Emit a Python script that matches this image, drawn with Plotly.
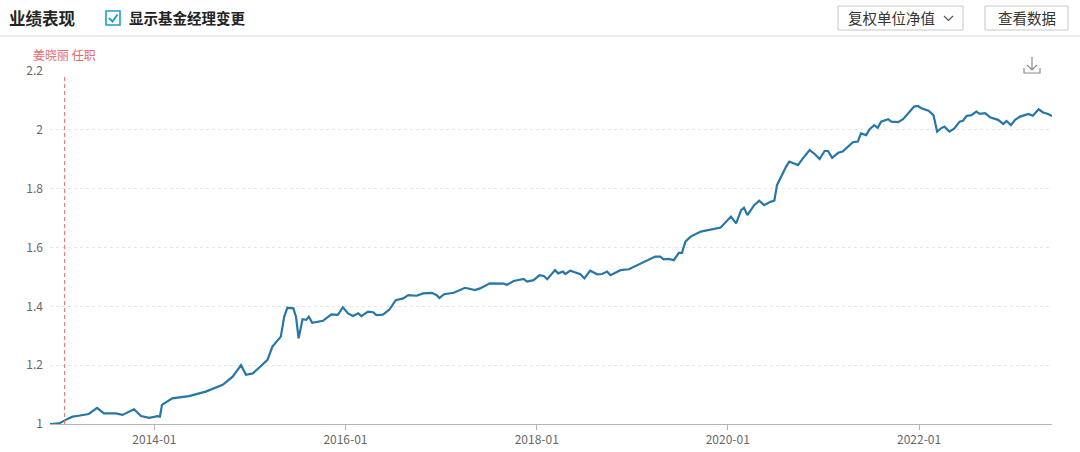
import plotly.graph_objects as go

# 复权单位净值
dates = [
    "2012-11-28", "2013-01-02", "2013-01-27", "2013-02-22", "2013-03-17", "2013-04-25",
    "2013-05-27", "2013-06-22", "2013-08-06", "2013-09-01", "2013-10-15", "2013-11-11",
    "2013-12-12", "2014-01-13", "2014-01-22", "2014-01-30", "2014-03-10", "2014-05-13",
    "2014-07-16", "2014-09-19", "2014-10-27", "2014-11-28", "2014-12-17", "2015-01-12",
    "2015-02-07", "2015-03-09", "2015-03-28", "2015-04-17", "2015-04-29", "2015-05-12",
    "2015-05-24", "2015-06-16", "2015-06-26", "2015-07-06", "2015-07-21", "2015-08-04",
    "2015-08-14", "2015-08-27", "2015-10-07", "2015-11-08", "2015-12-03", "2015-12-22",
    "2016-01-11", "2016-01-30", "2016-02-19", "2016-03-02", "2016-03-27", "2016-04-16",
    "2016-04-28", "2016-05-23", "2016-06-18", "2016-07-11", "2016-08-09", "2016-08-28",
    "2016-09-29", "2016-10-24", "2016-11-26", "2016-12-15", "2016-12-25", "2017-01-12",
    "2017-02-18", "2017-04-02", "2017-05-10", "2017-05-29", "2017-07-06", "2017-08-27",
    "2017-09-09", "2017-10-05", "2017-11-12", "2017-11-25", "2017-12-20", "2018-01-12",
    "2018-01-28", "2018-02-10", "2018-02-23", "2018-03-12", "2018-03-24", "2018-04-11",
    "2018-04-20", "2018-05-09", "2018-06-17", "2018-07-02", "2018-07-24", "2018-08-20",
    "2018-09-08", "2018-09-27", "2018-10-10", "2018-11-17", "2018-12-19", "2019-01-14",
    "2019-02-28", "2019-03-30", "2019-04-18", "2019-05-01", "2019-05-20", "2019-06-09",
    "2019-06-28", "2019-07-10", "2019-07-23", "2019-08-12", "2019-09-20", "2019-10-15",
    "2019-11-10", "2019-12-05", "2020-01-13", "2020-02-02", "2020-02-21", "2020-03-03",
    "2020-03-16", "2020-04-11", "2020-04-30", "2020-05-19", "2020-06-14", "2020-06-27",
    "2020-07-07", "2020-07-22", "2020-08-11", "2020-08-23", "2020-09-25", "2020-10-14",
    "2020-11-09", "2020-11-28", "2020-12-17", "2021-01-05", "2021-01-18", "2021-02-03",
    "2021-02-26", "2021-03-15", "2021-04-04", "2021-04-23", "2021-05-12", "2021-05-24",
    "2021-06-13", "2021-06-26", "2021-07-14", "2021-07-27", "2021-08-09", "2021-09-05",
    "2021-09-17", "2021-10-13", "2021-11-01", "2021-11-27", "2021-12-13", "2021-12-28",
    "2022-01-10", "2022-02-06", "2022-02-25", "2022-03-11", "2022-03-26", "2022-04-08",
    "2022-04-27", "2022-05-16", "2022-06-05", "2022-06-18", "2022-07-01", "2022-07-20",
    "2022-08-08", "2022-08-21", "2022-09-10", "2022-09-29", "2022-10-30", "2022-11-19",
    "2022-12-01", "2022-12-18", "2023-01-03", "2023-01-22", "2023-02-23", "2023-03-12",
    "2023-04-03", "2023-04-20", "2023-05-09", "2023-05-24",
]
nav = [
    1.000, 1.002, 1.014, 1.025, 1.028, 1.034,
    1.055, 1.036, 1.036, 1.031, 1.050, 1.027,
    1.021, 1.027, 1.025, 1.065, 1.087, 1.095,
    1.110, 1.133, 1.161, 1.200, 1.167, 1.172,
    1.193, 1.218, 1.263, 1.286, 1.297, 1.365,
    1.395, 1.393, 1.365, 1.291, 1.356, 1.354,
    1.365, 1.344, 1.351, 1.373, 1.371, 1.397,
    1.376, 1.367, 1.376, 1.367, 1.382, 1.380,
    1.370, 1.372, 1.390, 1.421, 1.427, 1.438,
    1.436, 1.444, 1.446, 1.438, 1.428, 1.441,
    1.446, 1.463, 1.455, 1.461, 1.478, 1.477,
    1.473, 1.486, 1.493, 1.484, 1.489, 1.506,
    1.503, 1.492, 1.506, 1.523, 1.512, 1.518,
    1.510, 1.521, 1.509, 1.495, 1.521, 1.509,
    1.510, 1.518, 1.506, 1.523, 1.526, 1.537,
    1.554, 1.569, 1.569, 1.560, 1.561, 1.557,
    1.582, 1.582, 1.620, 1.637, 1.654, 1.659,
    1.665, 1.668, 1.705, 1.682, 1.727, 1.735,
    1.710, 1.744, 1.759, 1.744, 1.756, 1.759,
    1.812, 1.841, 1.875, 1.892, 1.880, 1.903,
    1.931, 1.918, 1.901, 1.928, 1.928, 1.905,
    1.922, 1.926, 1.943, 1.958, 1.960, 1.988,
    1.982, 2.002, 2.016, 2.007, 2.028, 2.036,
    2.028, 2.026, 2.036, 2.062, 2.079, 2.081,
    2.073, 2.065, 2.050, 1.994, 2.005, 2.011,
    1.994, 2.005, 2.028, 2.031, 2.047, 2.050,
    2.062, 2.054, 2.057, 2.043, 2.034, 2.020,
    2.030, 2.016, 2.034, 2.045, 2.054, 2.048,
    2.070, 2.059, 2.054, 2.047,
]

manager_start = "2013-01-23"
manager_label = "姜晓丽 任职"

W, H = 1080, 452
L, R, T, B = 50, 28, 71, 28
FONT = "Noto Sans CJK SC, Microsoft YaHei, sans-serif"
TEAL = "#1aa0c4"


# page pixel -> paper coords (for the header widgets)
def px(x):
    return (x - L) / (W - L - R)


def py(y):
    return (H - B - y) / (H - T - B)


fig = go.Figure()
fig.add_trace(go.Scatter(
    x=dates, y=nav, mode="lines",
    line=dict(color="#2676a6", width=2.2),
    hoverinfo="x+y", showlegend=False,
))

shapes = [
    # manager change marker
    dict(type="line", xref="x", yref="paper", x0=manager_start, x1=manager_start,
         y0=0, y1=0.99, line=dict(color="#e36a6a", width=1, dash="4px,3px")),
    # header separator
    dict(type="line", xref="paper", yref="paper", x0=px(0), x1=px(W), y0=py(36), y1=py(36),
         line=dict(color="#d9d9d9", width=1)),
    # checkbox
    dict(type="rect", xref="paper", yref="paper", x0=px(106), x1=px(120), y0=py(25), y1=py(11),
         line=dict(color=TEAL, width=1.6), fillcolor="white"),
    dict(type="path", xref="paper", yref="paper",
         path=f"M {px(109)},{py(18)} L {px(112.5)},{py(21.5)} L {px(117.5)},{py(14.5)}",
         line=dict(color=TEAL, width=2)),
    # buttons
    dict(type="rect", xref="paper", yref="paper", x0=px(838), x1=px(963), y0=py(30), y1=py(6),
         line=dict(color="#c8c8c8", width=1)),
    dict(type="path", xref="paper", yref="paper",
         path=f"M {px(944)},{py(16)} L {px(948.5)},{py(20.5)} L {px(953)},{py(16)}",
         line=dict(color="#555", width=1.2)),
    dict(type="rect", xref="paper", yref="paper", x0=px(985), x1=px(1068), y0=py(30), y1=py(6),
         line=dict(color="#c8c8c8", width=1)),
    # download icon
    dict(type="path", xref="paper", yref="paper",
         path=f"M {px(1032)},{py(57)} L {px(1032)},{py(70)} M {px(1027)},{py(65)} "
              f"L {px(1032)},{py(70)} L {px(1037)},{py(65)}",
         line=dict(color="#8a8a8a", width=1.2)),
    dict(type="path", xref="paper", yref="paper",
         path=f"M {px(1024)},{py(68)} L {px(1024)},{py(73)} L {px(1040)},{py(73)} L {px(1040)},{py(68)}",
         line=dict(color="#8a8a8a", width=1.2)),
]

annotations = [
    dict(text="<b>业绩表现</b>", x=px(7), y=py(18), xanchor="left", yanchor="middle",
         font=dict(size=16.5, color="#222")),
    dict(text="<b>显示基金经理变更</b>", x=px(127), y=py(18), xanchor="left", yanchor="middle",
         font=dict(size=14.5, color="#222")),
    dict(text="复权单位净值", x=px(846), y=py(18), xanchor="left", yanchor="middle",
         font=dict(size=14.5, color="#333")),
    dict(text="查看数据", x=px(1026.5), y=py(18), xanchor="center", yanchor="middle",
         font=dict(size=14.5, color="#333")),
    dict(text=manager_label, x=px(31), y=py(54.5), xanchor="left", yanchor="middle",
         font=dict(size=12, color="#e36a6a")),
]
for a in annotations:
    a.update(xref="paper", yref="paper", showarrow=False)

fig.update_layout(
    width=W, height=H,
    margin=dict(l=L, r=R, t=T, b=B),
    paper_bgcolor="white", plot_bgcolor="white",
    font=dict(family=FONT, size=12, color="#666"),
    shapes=shapes, annotations=annotations,
    xaxis=dict(
        type="date", range=[dates[0], dates[-1]], automargin=False,
        tick0="2014-01-01", dtick="M24", tickformat="%Y-%m",
        showgrid=False, showline=True, linecolor="#b5b5b5", linewidth=1,
        ticks="outside", ticklen=5, tickcolor="#b5b5b5",
        tickfont=dict(size=12, color="#666"), zeroline=False,
    ),
    yaxis=dict(
        range=[1, 2.2], tick0=1, dtick=0.2, automargin=False,
        showgrid=True, gridcolor="#e6e6e6", griddash="dot", gridwidth=1,
        showline=False, zeroline=False, ticks="", ticklabelstandoff=6,
        tickfont=dict(size=12, color="#666"),
    ),
)

# page body has an 8px default margin; drop it so the figure sits at the window corner
fig.write_html(
    "out.html",
    config={"displayModeBar": False},
    post_script="document.body.style.margin='0';",
)
